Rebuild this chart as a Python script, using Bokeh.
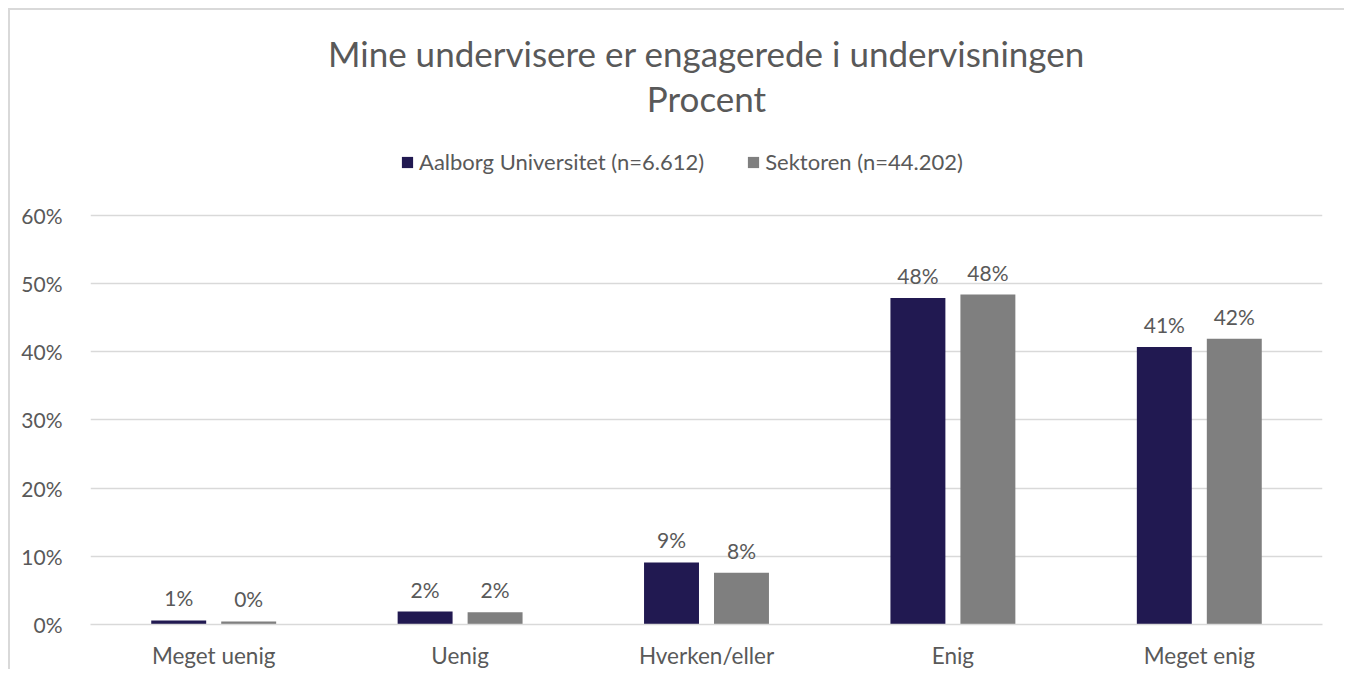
from bokeh.plotting import figure
from bokeh.models import FactorRange, Title, Legend, LegendItem, FixedTicker, CustomJSTickFormatter, ColumnDataSource, Range1d
from bokeh.transform import dodge
from bokeh.core.properties import value
from bokeh.embed import file_html
from bokeh.resources import INLINE

categories = ["Meget uenig", "Uenig", "Hverken/eller", "Enig", "Meget enig"]
aau = [0.6, 1.9, 9.1, 47.9, 40.7]
sektor = [0.45, 1.8, 7.6, 48.4, 41.9]
series_names = ["Aalborg Universitet (n=6.612)", "Sektoren (n=44.202)"]
y_ticks = [0, 10, 20, 30, 40, 50, 60]

FONT = "Lato"
TXT = "#595959"
C1 = "#211951"
C2 = "#7f7f7f"

src = ColumnDataSource(dict(
    cat=categories, aau=aau, sek=sektor,
    aau_lbl=[f"{round(v)}%" for v in aau],
    sek_lbl=[f"{round(v)}%" for v in sektor],
))

# y range extends above the 60% gridline to leave room for the legend inside the frame
p = figure(x_range=FactorRange(*categories), y_range=Range1d(0, 71),
           width=1336, height=661, output_backend="svg", toolbar_location=None,
           min_border_left=80, min_border_right=24, min_border_bottom=0, min_border_top=130)
p.styles = {"border-left": "2px solid #d9d9d9", "border-top": "2px solid #d9d9d9",
            "margin-left": "8px", "margin-top": "8px"}
p.outline_line_color = None
p.background_fill_color = "white"

r1 = p.vbar(x=dodge("cat", -0.142, range=p.x_range), top="aau", width=0.223, source=src,
            fill_color=C1, line_color=None)
r2 = p.vbar(x=dodge("cat", 0.142, range=p.x_range), top="sek", width=0.223, source=src,
            fill_color=C2, line_color=None)

p.text(x=dodge("cat", -0.142, range=p.x_range), y="aau", text="aau_lbl", source=src,
       text_align="center", text_baseline="bottom", y_offset=-10,
       text_font=value(FONT), text_font_size="21px", text_color=TXT)
p.text(x=dodge("cat", 0.142, range=p.x_range), y="sek", text="sek_lbl", source=src,
       text_align="center", text_baseline="bottom", y_offset=-10,
       text_font=value(FONT), text_font_size="21px", text_color=TXT)

p.xgrid.grid_line_color = None
p.ygrid.grid_line_color = "#d9d9d9"
p.ygrid.grid_line_width = 1.5
p.yaxis.ticker = FixedTicker(ticks=y_ticks)
p.yaxis.formatter = CustomJSTickFormatter(code="return tick + '%';")
p.yaxis.axis_line_color = None
p.yaxis.major_tick_line_color = None
p.yaxis.minor_tick_line_color = None
p.yaxis.major_label_standoff = 22
p.yaxis.major_label_text_font = FONT
p.yaxis.major_label_text_font_size = "21px"
p.yaxis.major_label_text_color = TXT

p.xaxis.axis_line_color = "#d9d9d9"
p.xaxis.axis_line_width = 1.5
p.xaxis.major_tick_line_color = None
p.xaxis.minor_tick_line_color = None
p.xaxis.major_label_standoff = 11
p.xaxis.major_label_text_font = FONT
p.xaxis.major_label_text_font_size = "22.5px"
p.xaxis.major_label_text_color = TXT
p.x_range.range_padding = 0
p.x_range.group_padding = 0

legend = Legend(items=[LegendItem(label=series_names[0], renderers=[r1]),
                       LegendItem(label=series_names[1], renderers=[r2])],
                orientation="horizontal", location=(310, 449),
                label_text_font=FONT, label_text_font_size="22px", label_text_color=TXT,
                glyph_width=14, glyph_height=14, label_standoff=5, spacing=42,
                border_line_color=None, background_fill_alpha=0, padding=0, margin=0)
p.add_layout(legend)

t2 = Title(text="Procent", align="center", text_font=FONT, text_font_size="35px",
           text_font_style="normal", text_color=TXT, standoff=44)
p.add_layout(t2, "above")
t1 = Title(text="Mine undervisere er engagerede i undervisningen", align="center", text_font=FONT,
           text_font_size="35px", text_font_style="normal", text_color=TXT, standoff=-42)
p.add_layout(t1, "above")

open("out.html", "w").write(file_html(p, INLINE))
